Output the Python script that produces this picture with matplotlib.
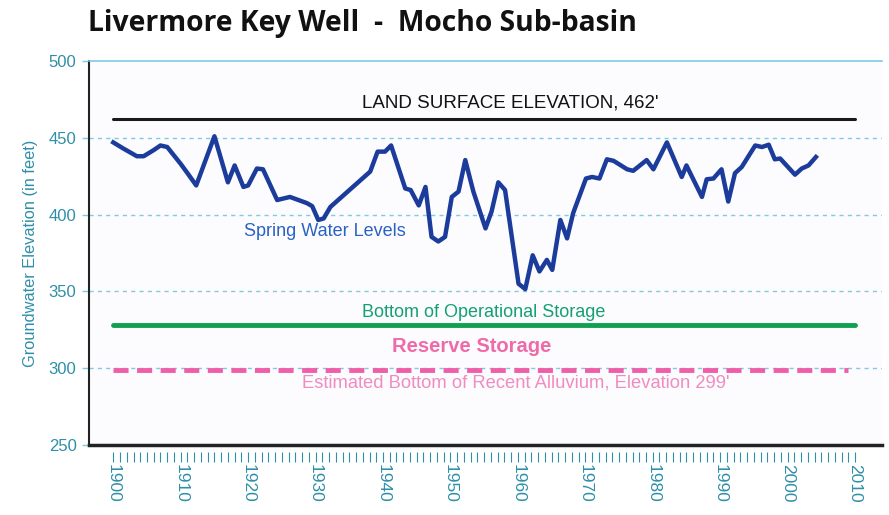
import matplotlib
matplotlib.use("Agg")
import matplotlib.pyplot as plt
from matplotlib.ticker import FixedLocator

# ---- data ----
years = [1900, 1901.5, 1903.5, 1904.5, 1906, 1907, 1908, 1910, 1911, 1912.3,
         1915, 1917, 1918, 1919.3, 1920, 1921.3, 1922.2, 1924.3, 1926.2, 1928.7,
         1929.5, 1930.4, 1931.2, 1932.2, 1938.1, 1939.2, 1940.3, 1941.2, 1943.3, 1944.1,
         1945.3, 1946.3, 1947.2, 1948.2, 1949.2, 1950.2, 1951.2, 1952.2, 1953.4, 1955.2,
         1956.1, 1957.1, 1958.1, 1960.1, 1961.1, 1962.2, 1963.2, 1964.3, 1965.1, 1966.3,
         1967.3, 1968.2, 1970.1, 1971, 1972.1, 1973.2, 1974.2, 1976.2, 1977.1, 1979.1,
         1980.1, 1982.1, 1984.3, 1985, 1987.3, 1988, 1989, 1990.2, 1991.2, 1992.2,
         1993.2, 1995.2, 1996.2, 1997.2, 1998.1, 1998.9, 2001.1, 2002.1, 2003.1, 2004.2]
levels = [447, 443, 438, 438, 442, 445, 444, 433, 427, 419,
          451, 421, 432, 418, 419, 430, 429.5, 409.5, 411.5, 407.5,
          405.5, 396.5, 397.5, 405, 428, 441, 441, 445, 417, 416,
          406, 418, 385.5, 382.5, 385.5, 411.5, 415, 435.5, 415, 391,
          402, 421, 416, 355, 351.5, 373.5, 363, 370.5, 364, 396.5,
          384.5, 401, 423.5, 424.5, 423.5, 436, 435, 429.5, 428.5, 435.5,
          429.5, 447, 424.5, 432, 411.5, 423, 423.5, 429.5, 408.5, 427,
          431, 445, 444, 445.5, 436, 436.5, 426, 430, 432, 437.5]

land_surface = 462
operational_bottom = 328
alluvium_bottom = 299
ref_span = [1900, 2010]

x_ticks = list(range(1900, 2011, 10))
y_ticks = [250, 300, 350, 400, 450, 500]

teal = "#2f8fa8"
grid_blue = "#7fcbe6"

fig = plt.figure(figsize=(8.89, 5.15), dpi=100)
fig.patch.set_facecolor("white")
ax = fig.add_axes([89/889, 1-445/515, (882-89)/889, (445-61)/515])
ax.set_facecolor("#fcfcfe")

ax.set_xlim(1896.4, 2014.0)
ax.set_ylim(250, 500)

# gridlines
for v in [300, 350, 400, 450]:
    ax.axhline(v, color=grid_blue, lw=1.0, ls=(0, (3, 3)), zorder=1)

# reference lines
ax.plot(ref_span, [land_surface]*2, color="#1a1a1a", lw=2.2, zorder=3, solid_capstyle="round")
ax.plot(ref_span, [operational_bottom]*2, color="#10a050", lw=3.5, zorder=3, solid_capstyle="round")
ax.plot([ref_span[0], 2009], [alluvium_bottom]*2, color="#ee5fa8", lw=3.5,
        ls=(0, (3.1, 1.75)), zorder=3)

# series
ax.plot(years, levels, color="#1c3c9c", lw=3.2, zorder=4, solid_joinstyle="round")

# texts
ax.text(1958.9, 467, "LAND SURFACE ELEVATION, 462'", ha="center", va="bottom",
        fontsize=13.5, color="#111111", family="Liberation Sans")
ax.text(1931.4, 389, "Spring Water Levels", ha="center", va="center",
        fontsize=13, color="#2a62c4", family="Liberation Sans")
ax.text(1955, 330.5, "Bottom of Operational Storage", ha="center", va="bottom",
        fontsize=13, color="#14a070", family="Liberation Sans")
ax.text(1953.1, 314, "Reserve Storage", ha="center", va="center",
        fontsize=14.5, color="#ee6aa8", family="Liberation Sans", fontweight="bold")
ax.text(1959.7, 290.5, "Estimated Bottom of Recent Alluvium, Elevation 299'", ha="center",
        va="center", fontsize=13.2, color="#f08cc0", family="Liberation Sans")

# axes styling
ax.spines["right"].set_visible(False)
ax.spines["top"].set_color(grid_blue)
ax.spines["top"].set_linewidth(1.2)
ax.spines["left"].set_color("#222222")
ax.spines["left"].set_linewidth(1.5)
ax.spines["bottom"].set_position(("outward", 5))
ax.spines["bottom"].set_visible(False)
ax.axhline(250, color="#222222", lw=2.5, zorder=5, clip_on=False)

ax.set_xticks(x_ticks)
ax.set_xticklabels([str(t) for t in x_ticks], rotation=-90, fontsize=12.5,
                   color=teal, family="Liberation Sans")
ax.xaxis.set_minor_locator(FixedLocator(list(range(1900, 2011))))
ax.tick_params(axis="x", which="both", length=7.2, width=0.8, color=teal, pad=1.5)

ax.set_yticks(y_ticks)
ax.set_yticklabels([str(t) for t in y_ticks], fontsize=12, color=teal,
                   family="Liberation Sans")
ax.tick_params(axis="y", length=5, width=1.0, color=grid_blue, pad=4)

ax.set_ylabel("Groundwater Elevation (in feet)", fontsize=11.8, color=teal,
              family="Liberation Sans", labelpad=8)

fig.text(88/889, 1-24/515, "Livermore Key Well  -  Mocho Sub-basin", ha="left",
         va="center", fontsize=20.3, fontweight="bold", color="#111111",
         family="Open Sans")

fig.savefig("out.png", dpi=100)
